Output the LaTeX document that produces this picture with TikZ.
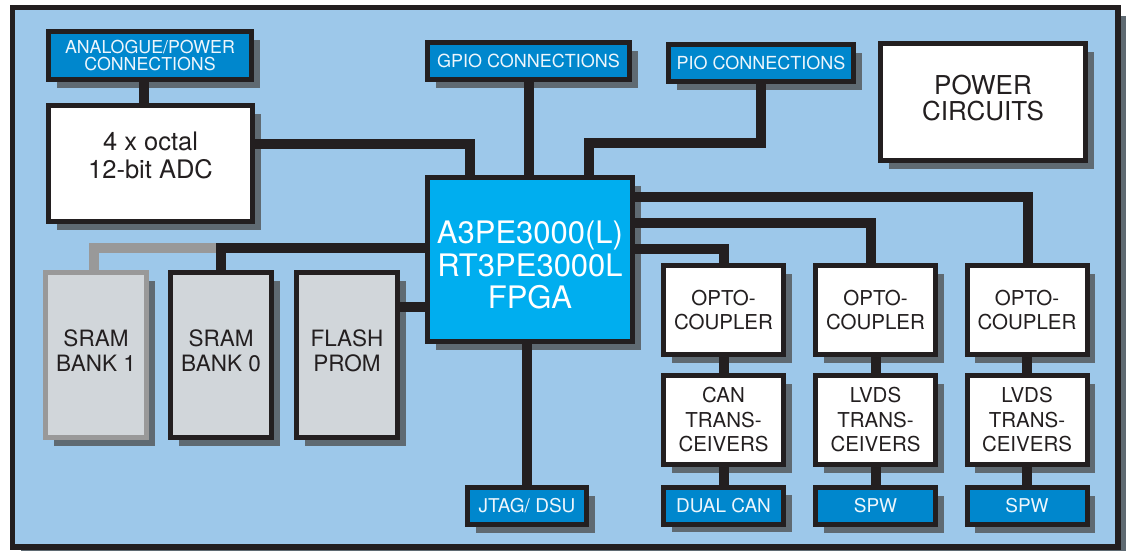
\documentclass[tikz,border=0pt]{standalone}
\usepackage{fontspec}
\setmainfont{TeX Gyre Heros}
\usetikzlibrary{shadows}
\definecolor{bg}{HTML}{9DC8EA}
\definecolor{ink}{HTML}{231F20}
\definecolor{shd}{HTML}{5F6A72}
\definecolor{lblue}{HTML}{0087CD}
\definecolor{cyanb}{HTML}{00AEEF}
\definecolor{mem}{HTML}{D1D6DA}
\definecolor{gline}{HTML}{999999}
\definecolor{wtxt}{HTML}{EEF6FC}
\begin{document}
\begin{tikzpicture}[x=1pt,y=-1pt,
  sh/.style={drop shadow={fill=shd,opacity=1,shadow xshift=8pt,shadow yshift=-8pt}},
  box/.style={draw=ink,line width=5pt,inner sep=0pt,align=center,sh},
  lbl/.style={box,fill=lblue,text=wtxt,minimum height=37pt,font=\fontsize{18}{18}\selectfont},
  blbl/.style={lbl,font=\fontsize{19}{19}\selectfont},
  wbox/.style={box,fill=white,text=ink},
  mbox/.style={box,fill=mem,minimum width=101pt,minimum height=165pt},
  mtxt/.style={txt,text=ink,font=\fontsize{22.5}{25}\selectfont},
  colbox/.style={wbox,font=\fontsize{20.5}{24.5}\selectfont,minimum width=120pt,minimum height=89pt},
  wire/.style={draw=ink,line width=10pt},
  gwire/.style={draw=gline,line width=10pt},
  txt/.style={inner sep=0pt,align=center}
]
\useasboundingbox (0,0) rectangle (1126,550);
\fill[white] (0,0) rectangle (1126,550);
\node[draw=ink,line width=5.5pt,fill=bg,inner sep=0pt,minimum width=1105.5pt,minimum height=539.5pt,sh] (frame) at (565.25,277.25) {};

% top labels
\node[lbl,minimum width=203pt,minimum height=48pt,font=\fontsize{17.8}{17.7}\selectfont] (analog) at (150,55.5) {ANALOGUE/POWER\\CONNECTIONS};
\node[lbl,minimum width=202pt] (gpio) at (528.5,61) {GPIO CONNECTIONS};
\node[lbl,minimum width=185pt] (pio) at (761,63) {PIO CONNECTIONS};

% power
\node[wbox,minimum width=205pt,minimum height=117pt] (power) at (983,102) {};
\node[txt,text=ink,font=\fontsize{26}{26.7}\selectfont] (powert) at (983,98) {POWER\\CIRCUITS};

% adc
\node[wbox,minimum width=204pt,minimum height=116pt] (adc) at (150.5,163.5) {};
\node[txt,text=ink,font=\fontsize{25.5}{27.7}\selectfont] (adct) at (150.5,155.5) {4 x octal\\12-bit ADC};

% fpga
\node[box,fill=cyanb,minimum width=205pt,minimum height=164pt] (fpga) at (530,259.5) {};
\node[txt,text=white,font=\fontsize{31}{32.5}\selectfont] (fpgat) at (530,265) {A3PE3000(L)\\RT3PE3000L\\FPGA};

% memories
\node[mbox,draw=gline] (sram1) at (96,355) {};
\node[mtxt] (sram1t) at (96,350.5) {SRAM\\BANK 1};
\node[mbox] (sram0) at (221,355) {};
\node[mtxt] (sram0t) at (221,350.5) {SRAM\\BANK 0};
\node[mbox] (flash) at (347,355) {};
\node[mtxt] (flasht) at (347,350.5) {FLASH\\PROM};

% columns
\node[colbox] (opto1) at (723.5,310) {OPTO-\\COUPLER};
\node[colbox] (opto2) at (875.5,310) {OPTO-\\COUPLER};
\node[colbox] (opto3) at (1027,310) {OPTO-\\COUPLER};
\node[colbox] (can) at (723.5,420) {CAN\\TRANS-\\CEIVERS};
\node[colbox] (lvds1) at (875.5,420) {LVDS\\TRANS-\\CEIVERS};
\node[colbox] (lvds2) at (1027,420) {LVDS\\TRANS-\\CEIVERS};
\node[blbl,minimum width=120pt] (dualcan) at (723.5,505.5) {DUAL CAN};
\node[blbl,minimum width=120pt] (spw1) at (875.5,506) {SPW};
\node[blbl,minimum width=120pt] (spw2) at (1027,506) {SPW};
\node[blbl,minimum width=119pt] (jtag) at (527,506) {JTAG/ DSU};

% wires
\coordinate (aw) at (470,143.5);
\coordinate (pw) at (589,142.5);
\coordinate (r1) at (1028,197);
\coordinate (r2) at (871,223);
\coordinate (r3) at (723.5,249);
\coordinate (fl) at (400,307);
\coordinate (sb) at (221,248);
\coordinate (sg) at (93.5,248);

\draw[wire] ([xshift=-6pt]analog.south) -- ([xshift=-6.5pt]adc.north);
\draw[wire] (adc.east |- aw) -- (aw) -- (aw |- fpga.north);
\draw[wire] (gpio.south) -- (gpio.south |- fpga.north);
\draw[wire] (pio.south) |- (pw) -- (pw |- fpga.north);
\draw[wire] (fpga.east |- r1) -- (r1) -- (r1 |- opto3.north);
\draw[wire] (fpga.east |- r2) -- (r2) -- (r2 |- opto2.north);
\draw[wire] (fpga.east |- r3) -| (opto1.north);
\draw[wire] (opto1) -- (can);
\draw[wire] (opto2) -- (lvds1);
\draw[wire] (opto3) -- (lvds2);
\draw[wire] (can) -- (dualcan);
\draw[wire] (lvds1) -- (spw1);
\draw[wire] (lvds2) -- (spw2);
\draw[wire] (jtag.north) -- (jtag.north |- fpga.south);
\draw[wire] (flash.east |- fl) -- (fpga.west |- fl);
\draw[gwire] ([xshift=-5pt]sb) -- (sg) -- (sg |- sram1.north);
\draw[wire] (fpga.west |- sb) -- (sb) -- (sram0.north);
\end{tikzpicture}
\end{document}
